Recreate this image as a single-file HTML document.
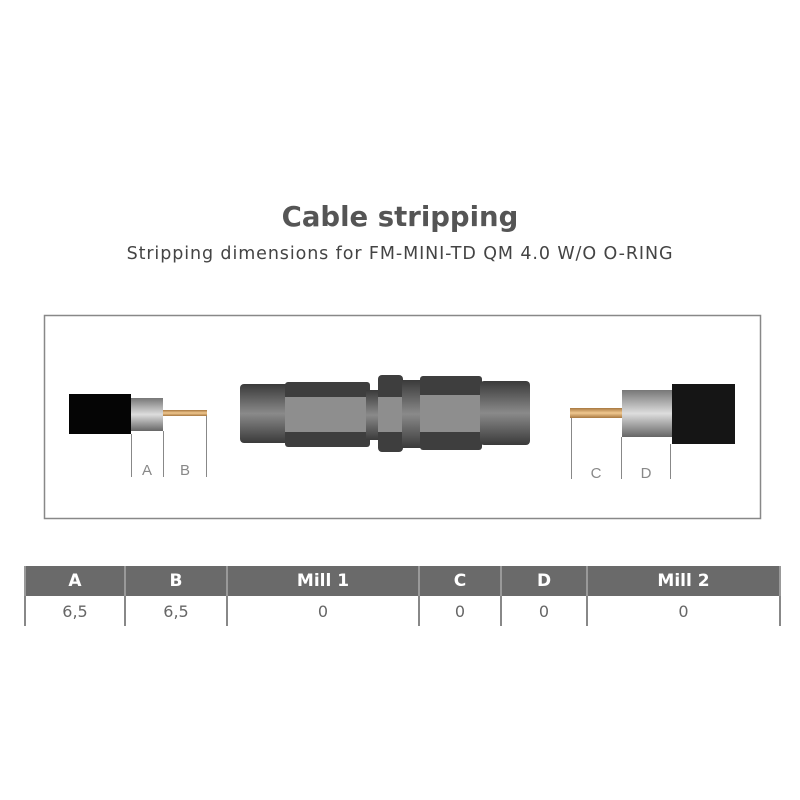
<!DOCTYPE html>
<html><head><style>
body{margin:0;width:800px;height:800px;background:#fff;position:relative;font-family:"DejaVu Sans","Liberation Sans",sans-serif;}
.t{position:absolute;left:0;width:800px;text-align:center;}
table{position:absolute;left:24px;top:566px;border-collapse:collapse;width:755px;table-layout:fixed;}
th{background:#6a6a6a;color:#fff;font-size:17px;height:30px;padding:0;border-left:2px solid #999;border-right:2px solid #999;}
td{height:30px;text-align:center;color:#666;font-size:16px;padding:0;border-left:2px solid #888;border-right:2px solid #888;}
</style></head><body>
<div class="t" style="top:201px;font-size:27.5px;font-weight:bold;color:#555;">Cable stripping</div>
<div class="t" style="top:244px;font-size:17.5px;letter-spacing:0.9px;color:#444;">Stripping dimensions for FM-MINI-TD QM 4.0 W/O O-RING</div>
<svg style="position:absolute;left:0;top:0" width="800" height="800">
<defs>
<linearGradient id="g" x1="0" y1="0" x2="0" y2="1"><stop offset="0" stop-color="#3a3a3a"/><stop offset="0.5" stop-color="#8a8a8a"/><stop offset="1" stop-color="#3a3a3a"/></linearGradient>
<linearGradient id="s" x1="0" y1="0" x2="0" y2="1"><stop offset="0" stop-color="#777"/><stop offset="0.5" stop-color="#ddd"/><stop offset="1" stop-color="#666"/></linearGradient>
<linearGradient id="c" x1="0" y1="0" x2="0" y2="1"><stop offset="0" stop-color="#a87840"/><stop offset="0.5" stop-color="#f0c890"/><stop offset="1" stop-color="#a87840"/></linearGradient>
</defs>
<rect x="44.5" y="315.5" width="716" height="203" fill="#fff" stroke="#888" stroke-width="1.5"/>
<rect x="69" y="394" width="62" height="40" fill="#050505"/>
<rect x="131" y="398" width="32" height="33" fill="url(#s)"/>
<rect x="163" y="410" width="44" height="6" fill="url(#c)"/>
<g stroke="#888" stroke-width="1"><line x1="131.5" y1="434" x2="131.5" y2="477"/><line x1="163.5" y1="431" x2="163.5" y2="477"/><line x1="206.5" y1="416" x2="206.5" y2="477"/></g>
<text x="147" y="475" font-size="15" fill="#888" text-anchor="middle" font-family="Liberation Sans">A</text>
<text x="185" y="475" font-size="15" fill="#888" text-anchor="middle" font-family="Liberation Sans">B</text>
<rect x="240" y="384" width="50" height="59" rx="4" fill="url(#g)"/>
<rect x="285" y="382" width="85" height="65" rx="3" fill="#3e3e3e"/>
<rect x="285" y="397" width="85" height="35" fill="#8e8e8e"/>
<rect x="366" y="390" width="14" height="50" fill="url(#g)"/>
<rect x="378" y="375" width="25" height="77" rx="4" fill="#3e3e3e"/>
<rect x="378" y="397" width="25" height="35" fill="#8e8e8e"/>
<rect x="402" y="380" width="20" height="68" fill="url(#g)"/>
<rect x="420" y="376" width="62" height="74" rx="3" fill="#3e3e3e"/>
<rect x="420" y="395" width="62" height="37" fill="#8e8e8e"/>
<rect x="480" y="381" width="50" height="64" rx="4" fill="url(#g)"/>
<rect x="570" y="408" width="52" height="10" fill="url(#c)"/>
<rect x="622" y="390" width="50" height="47" fill="url(#s)"/>
<rect x="672" y="384" width="63" height="60" fill="#151515"/>
<g stroke="#888" stroke-width="1"><line x1="571.5" y1="418" x2="571.5" y2="479"/><line x1="621.5" y1="437" x2="621.5" y2="479"/><line x1="670.5" y1="444" x2="670.5" y2="479"/></g>
<text x="596" y="478" font-size="15" fill="#888" text-anchor="middle" font-family="Liberation Sans">C</text>
<text x="646" y="478" font-size="15" fill="#888" text-anchor="middle" font-family="Liberation Sans">D</text>
</svg>
<table>
<colgroup><col style="width:100px"><col style="width:102px"><col style="width:192px"><col style="width:82px"><col style="width:86px"><col style="width:193px"></colgroup>
<tr><th>A</th><th>B</th><th>Mill 1</th><th>C</th><th>D</th><th>Mill 2</th></tr>
<tr><td>6,5</td><td>6,5</td><td>0</td><td>0</td><td>0</td><td>0</td></tr>
</table>
</body></html>
